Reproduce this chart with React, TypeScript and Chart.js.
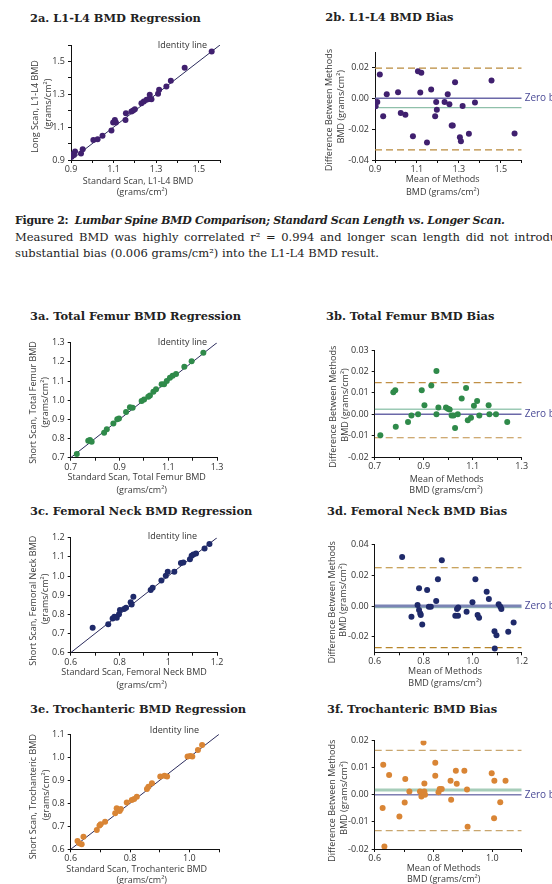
import React, { useEffect, useRef } from 'react';
import { Chart, registerables } from 'chart.js';
Chart.register(...registerables);

// ---------- DATA ----------
// 2a: L1-L4 regression (standard scan x, long scan y)
const reg2aX = [0.903, 0.911, 0.919, 0.914, 0.947, 0.955, 1.005, 1.025, 1.048, 1.090, 1.098, 1.111, 1.106, 1.156, 1.158, 1.184, 1.192, 1.200, 1.231, 1.242, 1.255, 1.267, 1.270, 1.278, 1.309, 1.314, 1.348, 1.369, 1.434, 1.561];
const reg2aY = [0.920, 0.937, 0.951, 0.930, 0.940, 0.965, 1.022, 1.026, 1.048, 1.079, 1.128, 1.128, 1.144, 1.144, 1.185, 1.195, 1.201, 1.209, 1.246, 1.256, 1.266, 1.272, 1.297, 1.270, 1.303, 1.327, 1.347, 1.382, 1.462, 1.561];
// 2b: L1-L4 bias (mean x, difference y)
const bias2bX = [0.903, 0.911, 0.923, 0.939, 0.956, 1.010, 1.023, 1.045, 1.081, 1.105, 1.121, 1.116, 1.148, 1.168, 1.187, 1.192, 1.195, 1.232, 1.247, 1.255, 1.266, 1.271, 1.282, 1.305, 1.310, 1.318, 1.348, 1.377, 1.456, 1.566];
const bias2bY = [-0.0052, -0.0024, 0.0154, -0.0117, 0.0026, 0.0039, -0.0096, -0.0107, -0.0246, 0.0176, 0.0165, 0.0037, -0.0287, 0.0057, -0.0117, -0.0024, -0.0074, -0.0024, 0.0026, -0.0039, -0.0176, -0.0176, 0.0104, -0.0252, -0.0278, -0.0050, -0.0230, -0.0028, 0.0115, -0.0228];
const limits2b = [0.0195, -0.006, -0.0334]; // upper, mean, lower

// 3a: Total femur regression
const reg3aX = [0.725, 0.772, 0.786, 0.779, 0.837, 0.848, 0.875, 0.891, 0.898, 0.927, 0.943, 0.954, 0.991, 1.001, 1.018, 1.025, 1.039, 1.050, 1.073, 1.083, 1.094, 1.107, 1.118, 1.132, 1.166, 1.196, 1.244];
const reg3aY = [0.719, 0.789, 0.783, 0.792, 0.830, 0.848, 0.879, 0.900, 0.905, 0.938, 0.963, 0.961, 0.996, 1.004, 1.018, 1.025, 1.044, 1.057, 1.083, 1.083, 1.100, 1.117, 1.128, 1.137, 1.175, 1.203, 1.248];
// 3b: Total femur bias
const bias3bX = [0.723, 0.776, 0.784, 0.786, 0.836, 0.850, 0.877, 0.892, 0.903, 0.931, 0.952, 0.952, 0.960, 0.991, 0.999, 1.006, 1.014, 1.022, 1.028, 1.039, 1.055, 1.073, 1.080, 1.093, 1.105, 1.118, 1.127, 1.165, 1.168, 1.195, 1.241];
const bias3bY = [-0.0098, 0.0102, 0.0112, -0.0059, -0.0037, -0.0006, 0.0000, 0.0112, 0.0042, 0.0134, 0.0202, 0.0000, 0.0031, 0.0031, 0.0025, 0.0022, -0.0006, -0.0006, -0.0065, 0.0000, 0.0073, 0.0123, -0.0028, -0.0017, 0.0040, 0.0062, -0.0006, 0.0042, 0.0000, 0.0000, -0.0037];
const limits3b = [0.0148, 0.0023, -0.011];

// 3c: Femoral neck regression
const reg3cX = [0.690, 0.754, 0.772, 0.779, 0.789, 0.798, 0.802, 0.819, 0.827, 0.846, 0.857, 0.850, 0.928, 0.936, 0.972, 0.990, 0.998, 1.025, 1.052, 1.062, 1.089, 1.096, 1.103, 1.114, 1.149, 1.169];
const reg3cY = [0.730, 0.748, 0.779, 0.788, 0.783, 0.800, 0.823, 0.828, 0.835, 0.863, 0.892, 0.852, 0.927, 0.939, 0.977, 1.002, 1.023, 1.023, 1.068, 1.070, 1.087, 1.106, 1.113, 1.118, 1.144, 1.167];
// 3d: Femoral neck bias
const bias3dX = [0.712, 0.750, 0.775, 0.781, 0.781, 0.786, 0.788, 0.794, 0.814, 0.821, 0.829, 0.851, 0.858, 0.874, 0.929, 0.936, 0.940, 0.941, 0.975, 0.999, 1.011, 1.020, 1.026, 1.057, 1.066, 1.090, 1.089, 1.097, 1.106, 1.113, 1.117, 1.145, 1.167];
const bias3dY = [0.0317, -0.0070, 0.0007, 0.0115, -0.0026, -0.0048, -0.0059, -0.0120, 0.0104, -0.0004, -0.0004, 0.0033, 0.0174, 0.0296, -0.0063, -0.0020, -0.0063, -0.0009, -0.0037, 0.0024, 0.0174, -0.0059, -0.0076, 0.0093, 0.0046, -0.0276, -0.0163, -0.0189, 0.0011, -0.0004, -0.0020, -0.0167, -0.0107];
const limits3d = [0.0248, -0.001, -0.027];

// 3e: Trochanteric regression
const reg3eX = [0.623, 0.629, 0.637, 0.643, 0.688, 0.697, 0.701, 0.716, 0.750, 0.755, 0.765, 0.769, 0.789, 0.806, 0.814, 0.823, 0.857, 0.862, 0.874, 0.902, 0.916, 0.925, 0.994, 1.003, 1.010, 1.029, 1.043];
const reg3eY = [0.636, 0.626, 0.622, 0.655, 0.684, 0.703, 0.709, 0.720, 0.757, 0.778, 0.767, 0.775, 0.804, 0.814, 0.819, 0.829, 0.862, 0.872, 0.887, 0.916, 0.920, 0.916, 1.003, 1.006, 1.003, 1.032, 1.054];
// 3f: Trochanteric bias
const bias3fX = [0.629, 0.649, 0.627, 0.633, 0.684, 0.704, 0.702, 0.718, 0.754, 0.759, 0.766, 0.769, 0.769, 0.771, 0.806, 0.806, 0.817, 0.821, 0.828, 0.858, 0.860, 0.876, 0.879, 0.905, 0.914, 0.916, 0.998, 1.007, 1.006, 1.027, 1.045];
const bias3fY = [0.0111, 0.0073, -0.0049, -0.0191, -0.0080, 0.0059, -0.0028, 0.0012, 0.0012, -0.0006, 0.0193, 0.0042, 0.0012, 0.0000, 0.0119, 0.0071, 0.0010, 0.0022, 0.0022, 0.0052, -0.0018, 0.0089, 0.0041, 0.0089, 0.0020, -0.0118, 0.0080, 0.0052, -0.0086, -0.0027, 0.0052];
const limits3f = [0.0164, 0.0018, -0.0132];

// tick values and labels
const ticks09_16 = [0.9, 1.0, 1.1, 1.2, 1.3, 1.4, 1.5, 1.6];
const labels09_16 = ['0.9', '', '1.1', '', '1.3', '', '1.5', ''];
const ticks07_13 = [0.7, 0.8, 0.9, 1.0, 1.1, 1.2, 1.3];
const labels07_13x = ['0.7', '', '0.9', '', '1.1', '', '1.3'];
const labels07_13y = ['0.7', '0.8', '0.9', '1.0', '1.1', '1.2', '1.3'];
const ticks06_12 = [0.6, 0.7, 0.8, 0.9, 1.0, 1.1, 1.2];
const labels06_12x3c = ['0.6', '', '0.8', '', '1', '', '1.2'];
const labels06_12x3d = ['0.6', '', '0.8', '', '1.0', '', '1.2'];
const labels06_12y = ['0.6', '0.7', '0.8', '0.9', '1.0', '1.1', '1.2'];
const ticks06_11 = [0.6, 0.7, 0.8, 0.9, 1.0, 1.1];
const labels06_11x = ['0.6', '', '0.8', '', '1.0', ''];
const labels06_11y = ['0.6', '0.7', '0.8', '0.9', '1.0', '1.1'];
const ticks2bY = [-0.04, -0.02, 0, 0.02];
const labels2bY = ['-0.04', '-0.02', '0.00', '0.02'];
const ticks3bY = [-0.02, -0.01, 0, 0.01, 0.02, 0.03];
const labels3bY = ['-0.02', '-0.01', '0.00', '0.01', '0.02', '0.03'];
const ticks3dY = [-0.02, 0, 0.02, 0.04];
const labels3dY = ['-0.02', '0.00', '0.02', '0.04'];
const ticks3fY = [-0.02, -0.01, 0, 0.01, 0.02];
const labels3fY = ['-0.02', '-0.01', '0.00', '0.01', '0.02'];

// ---------- STYLE ----------
const SANS = '"Open Sans", "Noto Sans", sans-serif';
const SERIF = '"DejaVu Serif", serif';
const PURPLE = '#40206f';
const GREEN = '#2f8a4a';
const NAVY = '#1f2a6a';
const ORANGE = '#d98535';

type Panel = {
  kind: 'reg' | 'bias';
  canvas: number[]; // left, top, width, height (page px)
  area: number[]; // left, top, right, bottom (page px)
  xs: number[]; ys: number[];
  xRange: number[]; yRange: number[];
  xTicks: number[]; xLabels: string[];
  yTicks: number[]; yLabels: string[];
  color: string;
  xTitle: string[]; xTitlePos: number[][];
  yTitle: string[]; yTitlePos: number[][];
  identityPos?: number[];
  limits?: number[];
  lineStyle?: { dash: string; dashW: number; mean: string; meanW: number; zero: string; zeroW: number };
};

const panels: Panel[] = [
  {
    kind: 'reg', canvas: [0, 30, 276, 170], area: [71, 45, 220, 160],
    xs: reg2aX, ys: reg2aY, xRange: [0.9, 1.6], yRange: [0.9, 1.6],
    xTicks: ticks09_16, xLabels: labels09_16, yTicks: ticks09_16, yLabels: labels09_16,
    color: PURPLE,
    xTitle: ['Standard Scan, L1-L4 BMD', '(grams/cm²)'], xTitlePos: [[138, 181], [142, 192]],
    yTitle: ['Long Scan, L1-L4 BMD', '(grams/cm²)'], yTitlePos: [[35, 106.5], [48, 104]],
    identityPos: [207, 45],
  },
  {
    kind: 'bias', canvas: [276, 30, 276, 170], area: [375, 52, 521.7, 160],
    xs: bias2bX, ys: bias2bY, xRange: [0.9, 1.6], yRange: [-0.04, 0.03],
    xTicks: ticks09_16, xLabels: labels09_16, yTicks: ticks2bY, yLabels: labels2bY,
    color: PURPLE,
    xTitle: ['Mean of Methods', 'BMD (grams/cm²)'], xTitlePos: [[442.7, 179], [442.7, 192]],
    yTitle: ['Difference Between Methods', 'BMD (grams/cm²)'], yTitlePos: [[329.5, 110], [341, 106.7]],
    limits: limits2b,
    lineStyle: { dash: '#b98a3c', dashW: 1.2, mean: '#8fc0aa', meanW: 1.3, zero: '#6b68a8', zeroW: 1.5 },
  },
  {
    kind: 'reg', canvas: [0, 330, 276, 170], area: [70.7, 342.7, 217, 457.7],
    xs: reg3aX, ys: reg3aY, xRange: [0.7, 1.3], yRange: [0.7, 1.3],
    xTicks: ticks07_13, xLabels: labels07_13x, yTicks: ticks07_13, yLabels: labels07_13y,
    color: GREEN,
    xTitle: ['Standard Scan, Total Femur BMD', '(grams/cm²)'], xTitlePos: [[136.7, 477.7], [141.7, 490]],
    yTitle: ['Short Scan, Total Femur BMD', '(grams/cm²)'], yTitlePos: [[33.3, 402.5], [45.7, 402.3]],
    identityPos: [207, 342],
  },
  {
    kind: 'bias', canvas: [276, 330, 276, 170], area: [374.7, 350, 521.7, 457],
    xs: bias3bX, ys: bias3bY, xRange: [0.7, 1.3], yRange: [-0.02, 0.03],
    xTicks: ticks07_13, xLabels: labels07_13x, yTicks: ticks3bY, yLabels: labels3bY,
    color: GREEN,
    xTitle: ['Mean of Methods', 'BMD (grams/cm²)'], xTitlePos: [[446.7, 479], [446, 490.7]],
    yTitle: ['Difference Between Methods', 'BMD (grams/cm²)'], yTitlePos: [[333.3, 406.7], [345, 405]],
    limits: limits3b,
    lineStyle: { dash: '#c08f45', dashW: 1.2, mean: '#9ccab5', meanW: 1.5, zero: '#6b68a8', zeroW: 1.5 },
  },
  {
    kind: 'reg', canvas: [0, 525, 276, 170], area: [70.7, 537.7, 217, 652.7],
    xs: reg3cX, ys: reg3cY, xRange: [0.6, 1.2], yRange: [0.6, 1.2],
    xTicks: ticks06_12, xLabels: labels06_12x3c, yTicks: ticks06_12, yLabels: labels06_12y,
    color: NAVY,
    xTitle: ['Standard Scan, Femoral Neck BMD', '(grams/cm²)'], xTitlePos: [[134, 672.3], [141.7, 685.7]],
    yTitle: ['Short Scan, Femoral Neck BMD', '(grams/cm²)'], yTitlePos: [[33.3, 600.7], [45.7, 599]],
    identityPos: [197, 536.7],
  },
  {
    kind: 'bias', canvas: [276, 525, 276, 170], area: [374.7, 544.3, 521.7, 652.3],
    xs: bias3dX, ys: bias3dY, xRange: [0.6, 1.2], yRange: [-0.03, 0.04],
    xTicks: ticks06_12, xLabels: labels06_12x3d, yTicks: ticks3dY, yLabels: labels3dY,
    color: NAVY,
    xTitle: ['Mean of Methods', 'BMD (grams/cm²)'], xTitlePos: [[445, 671.7], [445, 683.3]],
    yTitle: ['Difference Between Methods', 'BMD (grams/cm²)'], yTitlePos: [[332, 602.3], [343.7, 600]],
    limits: limits3d,
    lineStyle: { dash: '#b8862b', dashW: 1.2, mean: '#9ccab5', meanW: 1.5, zero: '#7b84b5', zeroW: 3 },
  },
  {
    kind: 'reg', canvas: [0, 722, 276, 162], area: [70.7, 734.3, 219, 849.3],
    xs: reg3eX, ys: reg3eY, xRange: [0.6, 1.1], yRange: [0.6, 1.1],
    xTicks: ticks06_11, xLabels: labels06_11x, yTicks: ticks06_11, yLabels: labels06_11y,
    color: ORANGE,
    xTitle: ['Standard Scan, Trochanteric BMD', '(grams/cm²)'], xTitlePos: [[136.7, 869.3], [141.7, 880.3]],
    yTitle: ['Short Scan, Trochanteric BMD', '(grams/cm²)'], yTitlePos: [[33.3, 796.7], [46.7, 795]],
    identityPos: [199, 730.7],
  },
  {
    kind: 'bias', canvas: [276, 722, 276, 162], area: [374.7, 740.7, 521.7, 849],
    xs: bias3fX, ys: bias3fY, xRange: [0.6, 1.1], yRange: [-0.02, 0.02],
    xTicks: ticks06_11, xLabels: labels06_11x, yTicks: ticks3fY, yLabels: labels3fY,
    color: ORANGE,
    xTitle: ['Mean of Methods', 'BMD (grams/cm²)'], xTitlePos: [[443.7, 868.3], [443.7, 879.3]],
    yTitle: ['Difference Between Methods', 'BMD (grams/cm²)'], yTitlePos: [[332, 800.7], [344.3, 798]],
    limits: limits3f,
    lineStyle: { dash: '#c9a66e', dashW: 1.2, mean: '#a6cdb9', meanW: 3, zero: '#3c3c8c', zeroW: 1 },
  },
];

const titles = [
  { text: '2a. L1-L4 BMD Regression', x: 30, y: 18 },
  { text: '2b. L1-L4 BMD Bias', x: 325.3, y: 17 },
  { text: '3a. Total Femur BMD Regression', x: 30, y: 316 },
  { text: '3b. Total Femur BMD Bias', x: 326, y: 316 },
  { text: '3c. Femoral Neck BMD Regression', x: 30, y: 511 },
  { text: '3d. Femoral Neck BMD Bias', x: 327, y: 511 },
  { text: '3e. Trochanteric BMD Regression', x: 30, y: 708.5 },
  { text: '3f. Trochanteric BMD Bias', x: 327, y: 708.5 },
];

function buildConfig(p: Panel): any {
  const [cl, ct, cw, ch] = p.canvas;
  const [al, at, ar, ab] = p.area;
  const [xMin, xMax] = p.xRange;
  const [yMin, yMax] = p.yRange;
  const pts = p.xs.map((x, i) => ({ x, y: p.ys[i] }));
  const datasets: any[] = [
    { data: pts, backgroundColor: p.color, borderWidth: 0, pointRadius: 3, pointHoverRadius: 3, order: 0 },
  ];
  if (p.kind === 'reg') {
    datasets.push({
      data: [{ x: xMin, y: yMin }, { x: xMax, y: yMax }], showLine: true,
      borderColor: '#2b2b5c', borderWidth: 1, pointRadius: 0, order: 1,
    });
  } else {
    const L = p.limits!;
    const s = p.lineStyle!;
    const seg = (v: number) => [{ x: xMin, y: v }, { x: xMax, y: v }];
    datasets.push({ data: seg(L[0]), showLine: true, borderColor: s.dash, borderWidth: s.dashW, borderDash: [7, 4], pointRadius: 0, order: 1 });
    datasets.push({ data: seg(L[2]), showLine: true, borderColor: s.dash, borderWidth: s.dashW, borderDash: [7, 4], pointRadius: 0, order: 1 });
    datasets.push({ data: seg(L[1]), showLine: true, borderColor: s.mean, borderWidth: s.meanW, pointRadius: 0, order: 3 });
    datasets.push({ data: seg(0), showLine: true, borderColor: s.zero, borderWidth: s.zeroW, pointRadius: 0, order: 2 });
  }

  const axis = (tks: number[], lbls: string[], pad: number) => ({
    type: 'linear',
    afterBuildTicks: (sc: any) => { sc.ticks = tks.map((v) => ({ value: v })); },
    ticks: {
      callback: (_v: any, i: number) => lbls[i] ?? '',
      font: { family: SANS, size: 9 }, color: '#333',
      autoSkip: false, maxRotation: 0, minRotation: 0, padding: pad,
    },
    grid: { drawOnChartArea: false, drawTicks: true, tickLength: 3, color: '#111', lineWidth: 1 },
    border: { display: true, color: '#111', width: 1 },
  });

  const extras = {
    id: 'extras',
    afterDraw(chart: any) {
      const ctx = chart.ctx;
      ctx.save();
      ctx.fillStyle = '#3a3a3a';
      ctx.font = `9px ${SANS}`;
      ctx.textAlign = 'center';
      ctx.textBaseline = 'middle';
      p.xTitle.forEach((t, i) => {
        ctx.fillText(t, p.xTitlePos[i][0] - cl, p.xTitlePos[i][1] - ct);
      });
      p.yTitle.forEach((t, i) => {
        ctx.save();
        ctx.translate(p.yTitlePos[i][0] - cl, p.yTitlePos[i][1] - ct);
        ctx.rotate(-Math.PI / 2);
        ctx.fillText(t, 0, 0);
        ctx.restore();
      });
      if (p.identityPos) {
        ctx.textAlign = 'right';
        ctx.fillStyle = '#333';
        ctx.fillText('Identity line', p.identityPos[0] - cl, p.identityPos[1] - ct);
      }
      if (p.kind === 'bias') {
        ctx.textAlign = 'left';
        ctx.fillStyle = '#4a4a96';
        ctx.font = `10px ${SANS}`;
        ctx.fillText('Zero bias', chart.chartArea.right + 3, chart.scales.y.getPixelForValue(0));
      }
      ctx.restore();
    },
  };

  return {
    type: 'scatter',
    data: { datasets },
    options: {
      responsive: false,
      animation: false,
      layout: { padding: { left: 0, top: at - ct, right: cl + cw - ar, bottom: 0 } },
      plugins: { legend: { display: false }, tooltip: { enabled: false }, title: { display: false } },
      scales: {
        x: {
          ...axis(p.xTicks, p.xLabels, 1), position: 'bottom', min: xMin, max: xMax,
          afterFit: (sc: any) => { sc.height = ct + ch - ab; },
        },
        y: {
          ...axis(p.yTicks, p.yLabels, 3), position: 'left', min: yMin, max: yMax,
          afterFit: (sc: any) => { sc.width = al - cl; },
        },
      },
    },
    plugins: [extras],
  };
}

function PanelChart({ p }: { p: Panel }) {
  const ref = useRef<HTMLCanvasElement>(null);
  useEffect(() => {
    const chart = new Chart(ref.current as HTMLCanvasElement, buildConfig(p));
    return () => chart.destroy();
  }, [p]);
  const [cl, ct, cw, ch] = p.canvas;
  return (
    <canvas
      ref={ref}
      width={cw}
      height={ch}
      style={{ position: 'absolute', left: cl, top: ct, width: cw, height: ch }}
    />
  );
}

export default function App() {
  return (
    <div
      style={{
        position: 'absolute', left: 0, top: 0, width: 552, height: 884,
        overflow: 'hidden', background: '#fff',
      }}
    >
      {titles.map((t) => (
        <div
          key={t.text}
          style={{
            position: 'absolute', left: t.x, top: t.y - 7, lineHeight: '14px',
            fontFamily: SERIF, fontWeight: 'bold', fontSize: 11.4, color: '#222', whiteSpace: 'nowrap',
          }}
        >
          {t.text}
        </div>
      ))}
      <div
        style={{
          position: 'absolute', left: 15, top: 211.5, width: 537, overflow: 'hidden',
          fontFamily: SERIF, fontSize: 11.5, lineHeight: '16px', color: '#222', whiteSpace: 'nowrap',
        }}
      >
        <span style={{ fontSize: 11, letterSpacing: '-0.3px' }}>
          <b>Figure 2:</b>{'\u00a0 '}<b><i>Lumbar Spine BMD Comparison; Standard Scan Length vs. Longer Scan.</i></b>
        </span>
        <br />
        <span style={{ wordSpacing: '2px' }}>
          Measured BMD was highly correlated r² = 0.994 and longer scan length did not introduce
        </span>
        <br />
        substantial bias (0.006 grams/cm²) into the L1-L4 BMD result.
      </div>
      {panels.map((p, i) => (
        <PanelChart key={i} p={p} />
      ))}
    </div>
  );
}
